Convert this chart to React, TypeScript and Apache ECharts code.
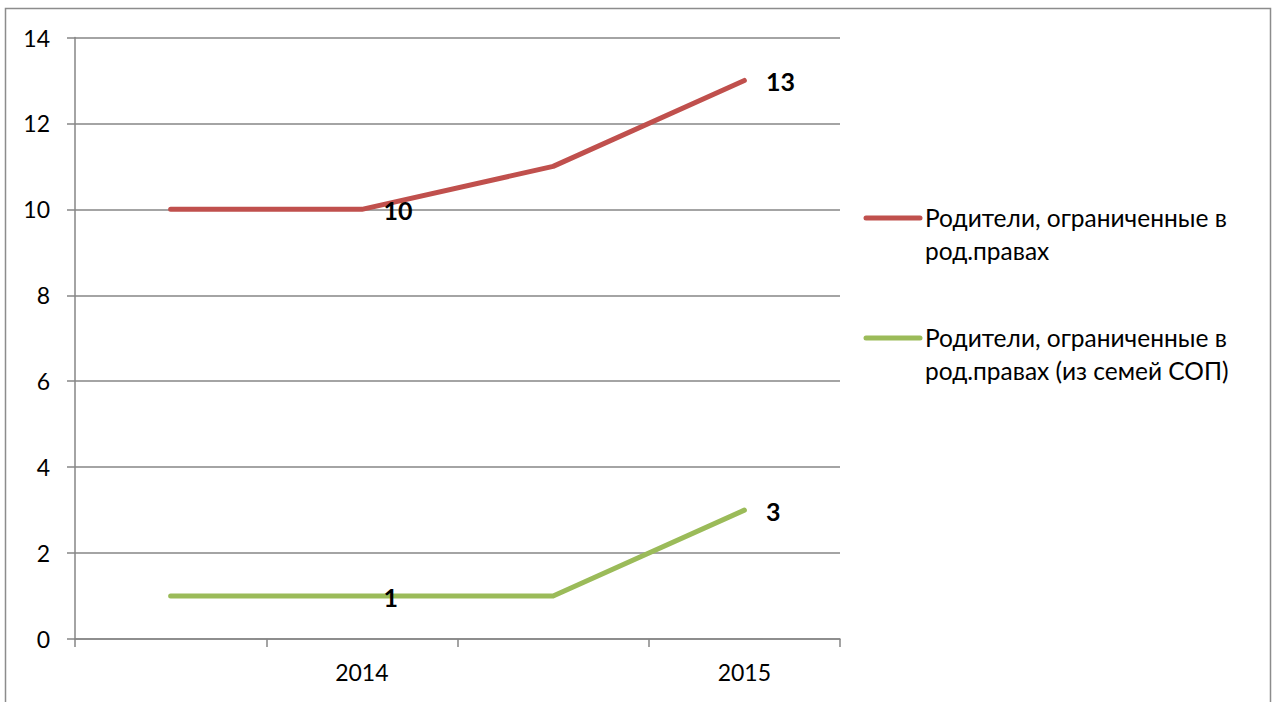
import React, { useEffect, useRef } from "react";
import * as echarts from "echarts";

const categories = ["", "2014", "", "2015"];
const seriesNames = [
  "Родители, ограниченные в род.правах",
  "Родители, ограниченные в род.правах (из семей СОП)",
];
const legendLines = [
  "Родители, ограниченные в\nрод.правах",
  "Родители, ограниченные в\nрод.правах (из семей СОП)",
];
const redValues = [10, 10, 11, 13];
const greenValues = [1, 1, 1, 3];
const labelShown = [false, true, false, true];
const yTicks = { min: 0, max: 14, interval: 2 };
const colors = ["#C0504D", "#9BBB59"];

const FONT = "Lato, 'Open Sans', 'Noto Sans', sans-serif";

function makeData(values: number[]) {
  return values.map((v, i) => ({
    value: v,
    label: { show: labelShown[i] },
  }));
}

export default function App() {
  const ref = useRef<HTMLDivElement>(null);
  useEffect(() => {
    if (!ref.current) return;
    const chart = echarts.init(ref.current, null, { renderer: "svg" });
    const seriesVals = [redValues, greenValues];
    chart.setOption({
      animation: false,
      backgroundColor: "#ffffff",
      textStyle: { fontFamily: FONT },
      grid: { left: 75, right: 438, top: 37.5, bottom: 63, containLabel: false },
      xAxis: {
        type: "category",
        data: categories,
        boundaryGap: true,
        axisLine: { lineStyle: { color: "#868686", width: 1.5 } },
        axisTick: { show: true, length: 8, interval: 0, lineStyle: { color: "#868686", width: 1.5 } },
        axisLabel: { interval: 0, margin: 21, color: "#000", fontSize: 23, fontFamily: FONT },
        splitLine: { show: false },
      },
      yAxis: {
        type: "value",
        min: yTicks.min,
        max: yTicks.max,
        interval: yTicks.interval,
        axisLine: { show: true, lineStyle: { color: "#868686", width: 1.5 } },
        axisTick: { show: true, length: 8, lineStyle: { color: "#868686", width: 1.5 } },
        axisLabel: { margin: 25, color: "#000", fontSize: 23, fontFamily: FONT },
        splitLine: { show: true, lineStyle: { color: "#868686", width: 1.5 } },
      },
      series: seriesVals.map((vals, idx) => ({
        name: seriesNames[idx],
        type: "line",
        data: makeData(vals),
        symbol: "circle",
        symbolSize: 1,
        showSymbol: true,
        color: colors[idx],
        itemStyle: { color: colors[idx] },
        lineStyle: { color: colors[idx], width: 5, cap: "round", join: "round" },
        label: {
          position: "right",
          distance: 21,
          color: "#000",
          fontWeight: "bold",
          fontSize: 25,
          fontFamily: FONT,
          offset: [0, 1],
        },
        z: idx === 0 ? 3 : 2,
      })),
      graphic: [
        {
          type: "rect",
          shape: { x: 5.5, y: 8.5, width: 1265, height: 720 },
          style: { fill: "none", stroke: "#8c8c8c", lineWidth: 1.5 },
          silent: true,
        },
        ...legendLines.flatMap((txt, i) => {
          const y = i === 0 ? 218 : 338;
          return [
            {
              type: "line",
              shape: { x1: 866, y1: y, x2: 920, y2: y },
              style: { stroke: colors[i], lineWidth: 5, lineCap: "round" },
            },
            {
              type: "text",
              x: 925,
              y: y - 17,
              style: {
                text: txt,
                fill: "#000",
                fontSize: 24.5,
                fontFamily: FONT,
                lineHeight: 33,
                verticalAlign: "top",
                align: "left",
              },
            },
          ];
        }),
      ],
    });
    return () => chart.dispose();
  }, []);
  return (
    <div
      ref={ref}
      style={{ position: "fixed", left: 0, top: 0, width: 1278, height: 702 }}
    />
  );
}
